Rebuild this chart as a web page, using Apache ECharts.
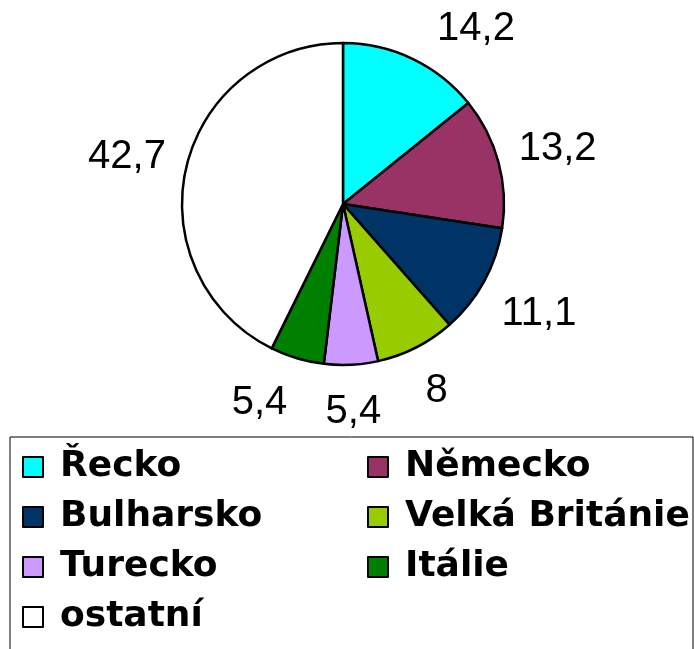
<!DOCTYPE html>
<html>
<head>
<meta charset="utf-8">
<script src="https://cdn.jsdelivr.net/npm/echarts@6/dist/echarts.min.js"></script>
<style>
html,body{margin:0;padding:0;background:#fff;}
#c{width:694px;height:649px;}
</style>
</head>
<body>
<div id="c"></div>
<script>
const categories = ['Řecko', 'Německo', 'Bulharsko', 'Velká Británie', 'Turecko', 'Itálie', 'ostatní'];
const values = [14.2, 13.2, 11.1, 8, 5.4, 5.4, 42.7];
const colors = ['#00FFFF', '#993366', '#003366', '#99CC00', '#CC99FF', '#008000', '#FFFFFF'];

const CX = 343, CY = 204, R = 161;
const LABEL_FONT = '40px "Liberation Sans"';
const total = values.reduce((a, b) => a + b, 0);
const cum = [];
values.reduce((acc, v, i) => { cum[i] = acc; return acc + v; }, 0);
const fmt = v => String(v).replace('.', ',');

const mctx = document.createElement('canvas').getContext('2d');
mctx.font = LABEL_FONT;
const widths = values.map(v => mctx.measureText(fmt(v)).width);

function at(t, w) {
  const halfH = 26, gap = 17;
  const s = Math.sin(t), c = Math.cos(t);
  const D = R + gap + (w / 2) * Math.abs(s) + halfH * Math.abs(c);
  return { x: CX + D * s, y: CY - D * c + 3, t: t };
}
const positions = [];
(function layout() {
  const minY = 29, glyphH = 30, hGap = 38;
  for (let i = 0; i < values.length; i++) {
    const w = widths[i];
    let theta = (cum[i] + values[i] / 2) / total * 2 * Math.PI;
    let p = at(theta, w);
    let guard = 0;
    while (p.y < minY && guard < 3000) {
      theta += (Math.sin(theta) >= 0 ? 1 : -1) * 0.001;
      p = at(theta, w); guard++;
    }
    if (i > 0) {
      const q = positions[i - 1], wq = widths[i - 1];
      const overlaps = pp => Math.abs(pp.y - q.y) < glyphH &&
        Math.abs(pp.x - q.x) < (w + wq) / 2 + hGap;
      guard = 0;
      while (overlaps(p) && guard < 3000) {
        theta += 0.001;
        p = at(theta, w); guard++;
      }
    }
    positions.push(p);
  }
})();

const chart = echarts.init(document.getElementById('c'), null, { renderer: 'canvas' });
chart.setOption({
  animation: false,
  backgroundColor: '#ffffff',
  graphic: [{
    type: 'rect',
    shape: { x: 10, y: 437, width: 683, height: 230 },
    style: { fill: 'none', stroke: '#000', lineWidth: 1 },
    silent: true,
    z: -1
  }],
  legend: {
    left: 22,
    top: 447,
    width: 690,
    orient: 'horizontal',
    itemWidth: 20,
    itemHeight: 20,
    itemGap: 10,
    icon: 'rect',
    selectedMode: false,
    padding: 0,
    itemStyle: { borderColor: '#000', borderWidth: 2 },
    textStyle: {
      fontFamily: 'DejaVu Sans',
      fontWeight: 'bold',
      fontSize: 36,
      color: '#000',
      lineHeight: 40,
      width: 297,
      padding: [0, 0, 0, 12]
    },
    data: categories
  },
  series: [{
    type: 'pie',
    center: [CX, CY],
    radius: R,
    startAngle: 90,
    clockwise: true,
    avoidLabelOverlap: false,
    silent: true,
    emphasis: { disabled: true },
    itemStyle: { borderColor: '#000', borderWidth: 2.5 },
    label: {
      show: true,
      position: 'outside',
      fontFamily: 'Liberation Sans',
      fontSize: 40,
      color: '#000',
      formatter: p => fmt(p.value)
    },
    labelLine: { show: false, length: 5, length2: 0 },
    labelLayout: function (params) {
      const p = positions[params.dataIndex];
      return { x: p.x, y: p.y, align: 'center', verticalAlign: 'middle' };
    },
    data: categories.map((n, i) => ({ name: n, value: values[i], itemStyle: { color: colors[i] } }))
  }]
});
</script>
</body>
</html>
